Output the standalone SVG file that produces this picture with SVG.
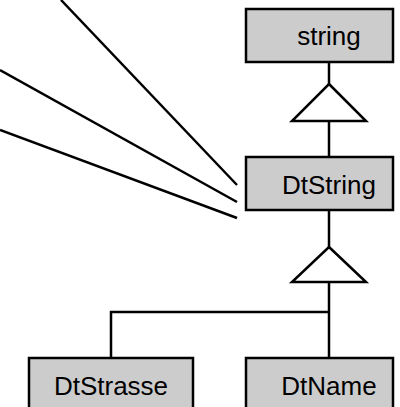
<svg xmlns="http://www.w3.org/2000/svg" width="400" height="407" viewBox="0 0 400 407">
<style>
.box{fill:#cccccc;stroke:#000;stroke-width:2.5}
.lbl{font-family:"Liberation Sans",Arial,sans-serif;font-size:26px;text-anchor:middle;fill:#000}
.ln{fill:none;stroke:#000;stroke-width:2.5}
.tri{fill:#fff;stroke:#000;stroke-width:2.5;stroke-linejoin:miter}
</style>
<rect width="400" height="407" fill="#fff"/>
<g id="connectors">
<line class="ln" x1="61" y1="0" x2="237" y2="185"/>
<line class="ln" x1="0" y1="70" x2="237" y2="202"/>
<line class="ln" x1="0" y1="130" x2="237" y2="218"/>
<line class="ln" x1="329" y1="62" x2="329" y2="84"/>
<polygon class="tri" points="329,84 366,121 292,121"/>
<line class="ln" x1="329" y1="121" x2="329" y2="157"/>
<line class="ln" x1="329" y1="210" x2="329" y2="247"/>
<polygon class="tri" points="329,247 366,282 292,282"/>
<polyline class="ln" points="329,282 329,358"/>
<polyline class="ln" points="111,358 111,312 329,312"/>
</g>
<g id="string"><rect class="box" x="246" y="9" width="147" height="53"/><text class="lbl" x="329" y="45">string</text></g>
<g id="DtString"><rect class="box" x="246" y="157" width="147" height="53"/><text class="lbl" x="329" y="194">DtString</text></g>
<g id="DtStrasse"><rect class="box" x="29" y="358" width="164" height="53"/><text class="lbl" x="111" y="395">DtStrasse</text></g>
<g id="DtName"><rect class="box" x="246" y="358" width="147" height="53"/><text class="lbl" x="329" y="395">DtName</text></g>
</svg>
